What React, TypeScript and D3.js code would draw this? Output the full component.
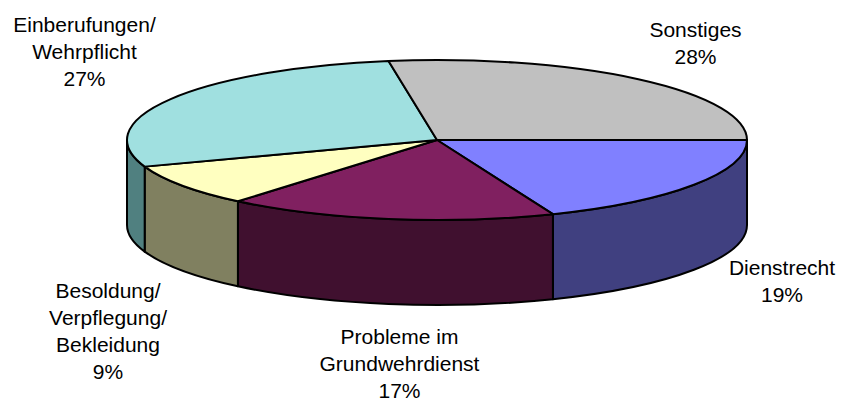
import React from "react";
import * as d3 from "d3";

const labels = [["Dienstrecht", "19%"], ["Probleme im", "Grundwehrdienst", "17%"], ["Besoldung/", "Verpflegung/", "Bekleidung", "9%"], ["Einberufungen/", "Wehrpflicht", "27%"], ["Sonstiges", "28%"]];
const values = [18.9, 17.2, 8.5, 27.9, 27.5];
const topColors = ["#8080ff", "#802060", "#ffffc0", "#a0e0e0", "#c0c0c0"];
const sideColors = ["#404080", "#40102f", "#808060", "#508080", "#606060"];
const labelX = [782, 399.5, 108, 84.5, 695.5];
const labelY = [275, 343.5, 298, 32, 37];

const cx = 437, cy = 140, rx = 310, ry = 80, depth = 85, lh = 27;
const sw = 2;

const px = (a: number) => cx + rx * Math.sin(a);
const py = (a: number) => cy - ry * Math.cos(a);
const arcPath = (a0: number, a1: number, dy = 0, sweep = 1) => {
  const large = Math.abs(a1 - a0) > Math.PI ? 1 : 0;
  return `A${rx},${ry} 0 ${large} ${sweep} ${px(a1)},${py(a1) + dy}`;
};

export default function App() {
  // Clockwise from 3 o'clock.
  const arcs = d3.pie<number>().sort(null).startAngle(Math.PI / 2).endAngle(Math.PI * 2.5)(values);
  return (
    <svg width={842} height={402} style={{ position: "absolute", left: 0, top: 0 }}>
      <rect width={842} height={402} fill="#fff" />
      {arcs.map((d, i) => {
        const a0 = Math.max(d.startAngle, Math.PI / 2);
        const a1 = Math.min(d.endAngle, Math.PI * 1.5);
        if (a0 >= a1) return null;
        return <path key={i} stroke="#000" strokeWidth={sw} strokeLinejoin="round" fill={sideColors[i]}
          d={`M${px(a0)},${py(a0)}${arcPath(a0, a1)}L${px(a1)},${py(a1) + depth}${arcPath(a1, a0, depth, 0)}Z`} />;
      })}
      {arcs.map((d, i) => (
        <path key={i} stroke="#000" strokeWidth={sw} strokeLinejoin="round" fill={topColors[i]}
          d={`M${cx},${cy}L${px(d.startAngle)},${py(d.startAngle)}${arcPath(d.startAngle, d.endAngle)}Z`} />
      ))}
      {labels.map((lines, i) => (
        <text key={i} textAnchor="middle" fontFamily="Liberation Sans, Arial, sans-serif" fontSize={21} fill="#000">
          {lines.map((t, j) => <tspan key={j} x={labelX[i]} y={labelY[i] + j * lh}>{t}</tspan>)}
        </text>
      ))}
    </svg>
  );
}
